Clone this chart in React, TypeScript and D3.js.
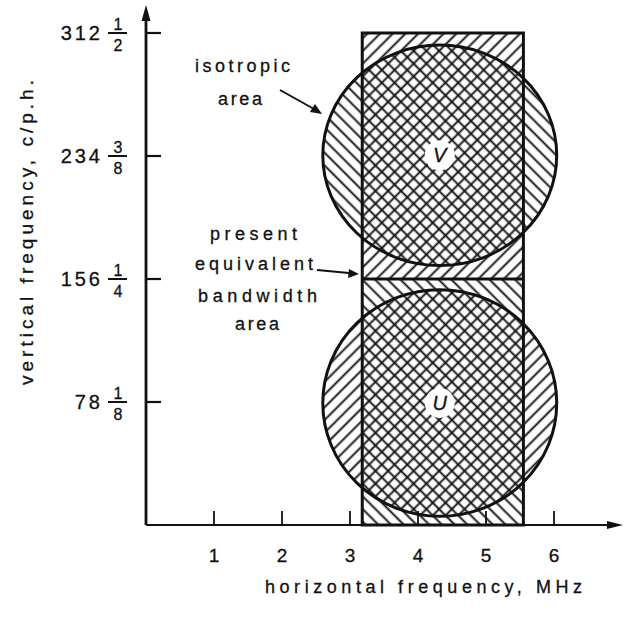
import { useEffect } from 'react';
import * as d3 from 'd3';

// horizontal axis, MHz
const xTicks = [1, 2, 3, 4, 5, 6];
// vertical axis, c/p.h.
const yTicks = [78.125, 156.25, 234.375, 312.5];
const yTickWhole = ['78', '156', '234', '312'];
const yTickNum = ['1', '1', '3', '1'];
const yTickDen = ['8', '4', '8', '2'];

// present equivalent bandwidth area (two stacked halves)
const bandEdges = [3.18, 5.55];
const bandSplits = [0, 156.25, 312.5];

// isotropic areas
const circleLabels = ['V', 'U'];
const circleCx = [4.32, 4.32];
const circleCy = [234.8, 77.5];
const circleRx = [1.72, 1.72];
const circleRy = [70, 72];

const W = 631, H = 620;
const font = "'Liberation Sans', Arial, sans-serif";
const ink = '#111';

function App() {
  useEffect(() => {
    document.body.style.margin = '0';
  }, []);

  const x = d3.scaleLinear().domain([0, 6]).range([146, 554]);
  const y = d3.scaleLinear().domain([0, 312.5]).range([525, 33]);

  const x0 = x(0), y0 = y(0);

  // upper half: rect "/" & circle "\" ; lower half: rect "\" & circle "/"
  const rectPat = ['fwd', 'back'];
  const circPat = ['back', 'fwd'];
  const sp = 9;

  const txt = { fontFamily: font, fill: ink, stroke: ink, strokeWidth: 0.3 };

  return (
    <svg width={W} height={H} style={{ display: 'block', background: '#fff' }}>
      <defs>
        <pattern id="fwd" patternUnits="userSpaceOnUse" width={sp} height={sp} patternTransform="rotate(45)">
          <line x1={sp / 2} y1={-1} x2={sp / 2} y2={sp + 1} stroke={ink} strokeWidth={1.9} />
        </pattern>
        <pattern id="back" patternUnits="userSpaceOnUse" width={sp} height={sp} patternTransform="rotate(-45)">
          <line x1={sp / 2} y1={-1} x2={sp / 2} y2={sp + 1} stroke={ink} strokeWidth={1.9} />
        </pattern>
      </defs>

      {/* x ticks (upward) */}
      {xTicks.map(t => (
        <line key={'xt' + t} x1={x(t)} x2={x(t)} y1={y0} y2={y0 - 14} stroke={ink} strokeWidth={1.8} />
      ))}

      {/* hatched rectangles */}
      {bandSplits.slice(0, 2).map((lo, i) => {
        const hi = bandSplits[i + 1];
        return (
          <rect key={'rf' + i} x={x(bandEdges[0])} y={y(hi)} width={x(bandEdges[1]) - x(bandEdges[0])}
            height={y(lo) - y(hi)} fill={`url(#${rectPat[1 - i]})`} />
        );
      })}

      {/* hatched circles */}
      {circleCx.map((cx, i) => (
        <ellipse key={'cf' + i} cx={x(cx)} cy={y(circleCy[i])}
          rx={x(cx + circleRx[i]) - x(cx)} ry={y(0) - y(circleRy[i])}
          fill={`url(#${circPat[i]})`} />
      ))}

      {/* white patches behind the labels */}
      {circleCx.map((cx, i) => (
        <circle key={'wp' + i} cx={x(cx)} cy={y(circleCy[i])} r={15} fill="#fff" />
      ))}
      {circleCx.map((cx, i) => (
        <text key={'cl' + i} x={x(cx)} y={y(circleCy[i]) + 7} textAnchor="middle"
          {...txt} fontStyle="italic" fontSize={20}>{circleLabels[i]}</text>
      ))}

      {/* outlines */}
      <rect x={x(bandEdges[0])} y={y(bandSplits[2])} width={x(bandEdges[1]) - x(bandEdges[0])}
        height={y(0) - y(bandSplits[2])} fill="none" stroke={ink} strokeWidth={3} />
      <line x1={x(bandEdges[0])} x2={x(bandEdges[1])} y1={y(bandSplits[1])} y2={y(bandSplits[1])}
        stroke={ink} strokeWidth={3} />
      {circleCx.map((cx, i) => (
        <ellipse key={'co' + i} cx={x(cx)} cy={y(circleCy[i])}
          rx={x(cx + circleRx[i]) - x(cx)} ry={y(0) - y(circleRy[i])}
          fill="none" stroke={ink} strokeWidth={3} />
      ))}

      {/* axes */}
      <line x1={x0} x2={x0} y1={y0} y2={14} stroke={ink} strokeWidth={2.8} />
      <path d={`M${x0},5 L${x0 - 4.5},21 L${x0 + 4.5},21 Z`} fill={ink} />
      <line x1={x0} x2={612} y1={y0} y2={y0} stroke={ink} strokeWidth={2} />
      <path d={`M623,${y0} L607,${y0 - 4} L607,${y0 + 4} Z`} fill={ink} />

      {/* y ticks (inward) and fraction labels */}
      {yTicks.map((t, i) => (
        <g key={'yt' + i}>
          <line x1={x0} x2={x0 + 15} y1={y(t)} y2={y(t)} stroke={ink} strokeWidth={2.2} />
          <text x={103} y={y(t) + 7} textAnchor="end" {...txt} fontSize={20}
            letterSpacing={3}>{yTickWhole[i]}</text>
          <line x1={108} x2={127} y1={y(t)} y2={y(t)} stroke={ink} strokeWidth={2} />
          <text x={118} y={y(t) - 3} textAnchor="middle" {...txt} fontSize={16}>{yTickNum[i]}</text>
          <text x={118} y={y(t) + 18} textAnchor="middle" {...txt} fontSize={16}>{yTickDen[i]}</text>
        </g>
      ))}

      {/* x tick labels */}
      {xTicks.map(t => (
        <text key={'xl' + t} x={x(t)} y={562} textAnchor="middle" {...txt} fontSize={19}>{t}</text>
      ))}

      {/* axis titles */}
      <text x={265} y={593} {...txt} fontSize={18} textLength={317} lengthAdjust="spacing">
        horizontal  frequency, MHz
      </text>
      <text transform="translate(33,385) rotate(-90)" {...txt} fontSize={19}
        textLength={305} lengthAdjust="spacing">
        vertical  frequency, c/p.h.
      </text>

      {/* annotations */}
      <text x={195} y={72} {...txt} fontSize={18} textLength={95} lengthAdjust="spacing">isotropic</text>
      <text x={218} y={105} {...txt} fontSize={18} textLength={44} lengthAdjust="spacing">area</text>
      <line x1={280} y1={90} x2={314} y2={109} stroke={ink} strokeWidth={2} />
      <path d="M322,114 L310,112 L315,104 Z" fill={ink} />

      <text x={210} y={240} {...txt} fontSize={18} textLength={87} lengthAdjust="spacing">present</text>
      <text x={195} y={270} {...txt} fontSize={18} textLength={118} lengthAdjust="spacing">equivalent</text>
      <text x={198} y={302} {...txt} fontSize={18} textLength={119} lengthAdjust="spacing">bandwidth</text>
      <text x={235} y={330} {...txt} fontSize={18} textLength={44} lengthAdjust="spacing">area</text>
      <line x1={317} y1={270} x2={349} y2={273} stroke={ink} strokeWidth={2} />
      <path d="M359,274 L348,278 L349,269 Z" fill={ink} />
    </svg>
  );
}

export default App;
